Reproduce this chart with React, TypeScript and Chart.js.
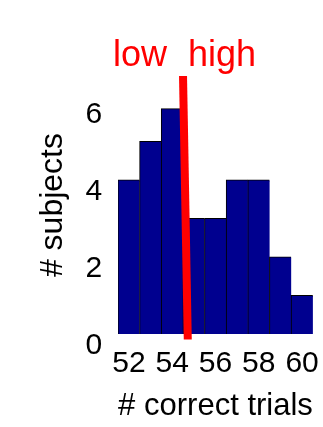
import React, { useEffect, useRef } from "react";
import { Chart, registerables } from "chart.js";

Chart.register(...registerables);

// Data
const binCenters = [52, 53, 54, 55, 56, 57, 58, 59, 60];
const subjectCounts = [4, 5, 5.85, 3, 3, 4, 4, 2, 1];
const xTickValues = [52, 54, 56, 58, 60];
const yTickValues = [0, 2, 4, 6];
const splitLineX = [54.5, 54.72];
const splitLineY = [6.7, -0.14];
const groupLabels = ["low", "high"];

const FONT = "'Liberation Sans', Arial, Helvetica, sans-serif";

const groupLabelPlugin = {
  id: "groupLabels",
  afterDatasetsDraw(chart: any) {
    const { ctx, scales } = chart;
    const x = scales.x.getPixelForValue(splitLineX[0]);
    const y = scales.y.getPixelForValue(splitLineY[0]);
    ctx.save();
    ctx.fillStyle = "#ff0000";
    ctx.font = `36px ${FONT}`;
    ctx.textBaseline = "alphabetic";
    ctx.textAlign = "right";
    ctx.fillText(groupLabels[0], x - 16, y - 10);
    ctx.textAlign = "left";
    ctx.fillText(groupLabels[1], x + 5, y - 10);
    ctx.restore();
  },
};

export default function App() {
  const canvasRef = useRef<HTMLCanvasElement | null>(null);

  useEffect(() => {
    if (!canvasRef.current) return;
    const chart = new Chart(canvasRef.current, {
      type: "bar",
      data: {
        datasets: [
          {
            type: "bar",
            data: binCenters.map((x, i) => ({ x, y: subjectCounts[i] })),
            backgroundColor: "#00008f",
            borderColor: "#000000",
            borderWidth: { top: 1, left: 1, right: 0, bottom: 0 } as any,
            borderSkipped: false as any,
            inflateAmount: 0.5,
            barPercentage: 1,
            categoryPercentage: 1,
            order: 2,
          } as any,
          {
            type: "line",
            data: splitLineX.map((x, i) => ({ x, y: splitLineY[i] })),
            borderColor: "#ff0000",
            borderWidth: 8,
            pointRadius: 0,
            fill: false,
            clip: false as any,
            order: 1,
          } as any,
        ],
      },
      options: {
        animation: false,
        responsive: false,
        maintainAspectRatio: false,
        layout: { padding: { top: 76, left: 0, right: 10, bottom: 2 } },
        plugins: {
          legend: { display: false },
          tooltip: { enabled: false },
          title: { display: false },
        },
        scales: {
          x: {
            type: "linear",
            offset: false,
            min: 51.5,
            max: 60.5,
            grid: { display: false, drawTicks: false },
            border: { display: false },
            afterBuildTicks: (scale: any) => {
              scale.ticks = xTickValues.map((v) => ({ value: v }));
            },
            ticks: {
              color: "#000",
              padding: 3.7,
              maxRotation: 0,
              autoSkip: false,
              font: { family: FONT, size: 30, lineHeight: 1.75 },
              callback: (v: any) => String(v),
            },
            title: {
              display: true,
              text: "# correct trials",
              color: "#000",
              font: { family: FONT, size: 32, lineHeight: 1.2 },
              padding: { top: -7.4, bottom: 0 },
            },
          },
          y: {
            type: "linear",
            min: 0,
            max: 6.7,
            grid: { display: false, drawTicks: false },
            border: { display: false },
            afterBuildTicks: (scale: any) => {
              scale.ticks = yTickValues.map((v) => ({ value: v }));
            },
            ticks: {
              color: "#000",
              padding: 16,
              labelOffset: 12,
              autoSkip: false,
              font: { family: FONT, size: 30, lineHeight: 1.2 },
              callback: (v: any) => String(v),
            },
            title: {
              display: true,
              text: "# subjects",
              color: "#000",
              font: { family: FONT, size: 32, lineHeight: 1.2 },
              padding: { top: 34, bottom: -3 },
            },
          },
        },
      },
      plugins: [groupLabelPlugin],
    } as any);
    return () => chart.destroy();
  }, []);

  return (
    <div style={{ position: "absolute", left: 0, top: 0, width: 323, height: 427, background: "#fff" }}>
      <canvas ref={canvasRef} width={323} height={427} style={{ width: 323, height: 427 }} />
    </div>
  );
}
